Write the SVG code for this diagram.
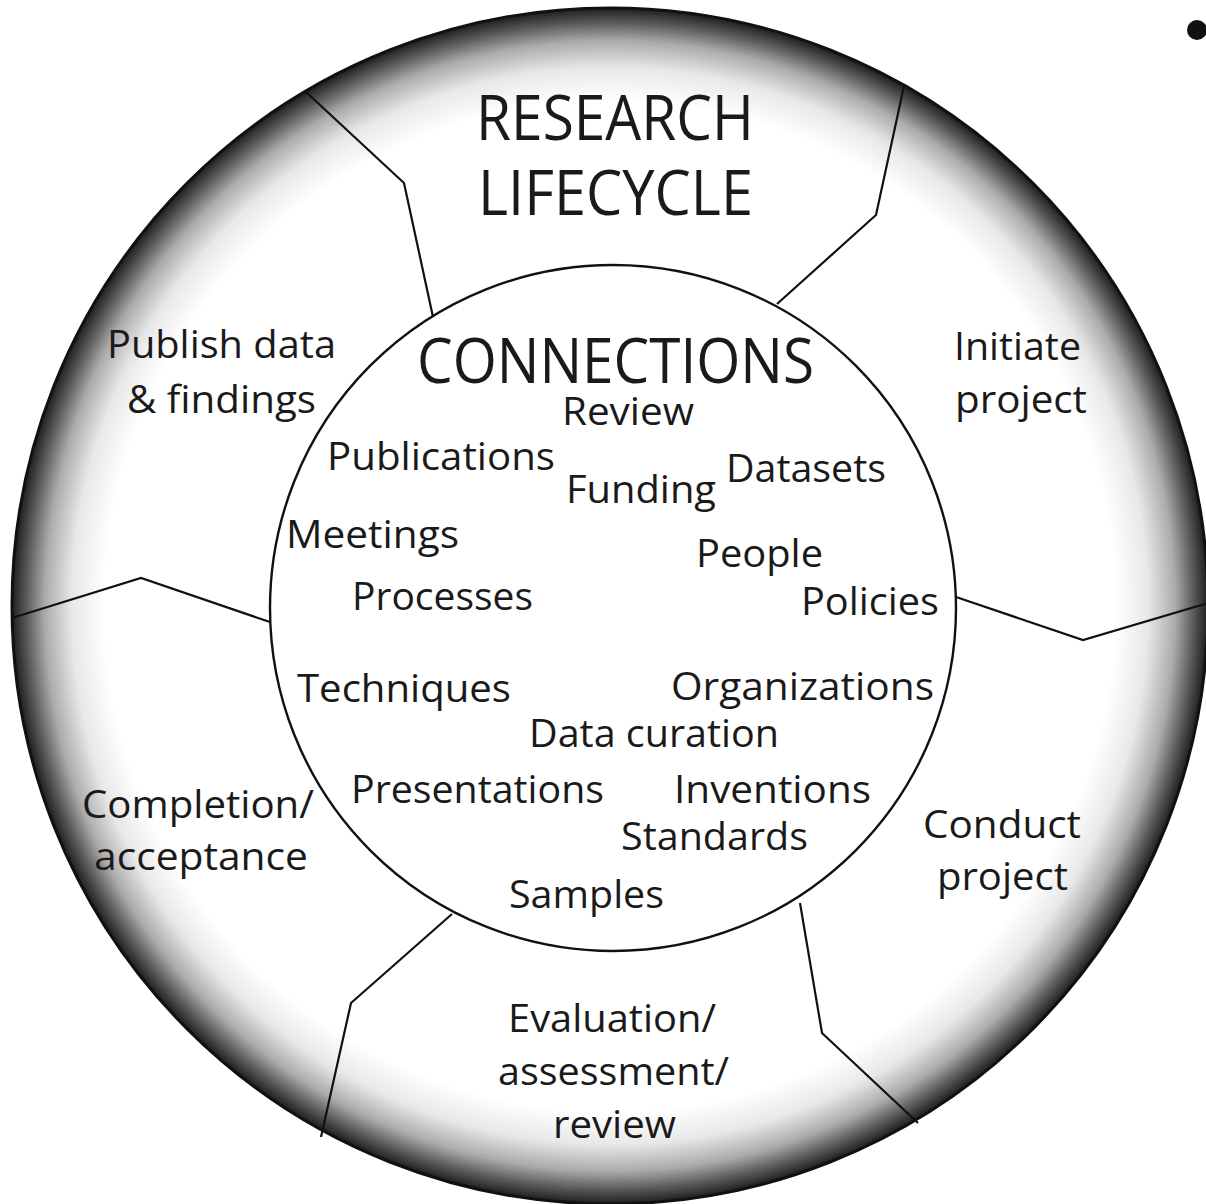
<svg xmlns="http://www.w3.org/2000/svg" width="1206" height="1204" viewBox="0 0 1206 1204">
  <defs>
    <radialGradient id="ringGrad" cx="50%" cy="50%" r="50%">
      <stop offset="0" stop-color="#ffffff"/>
      <stop offset="0.845" stop-color="#ffffff"/>
      <stop offset="0.9" stop-color="#e8e8e8"/>
      <stop offset="0.945" stop-color="#ababab"/>
      <stop offset="0.975" stop-color="#5c5c5c"/>
      <stop offset="1" stop-color="#1e1e1e"/>
    </radialGradient>
  </defs>
  <style>
    .lbl { font-family: "Open Sans", "Noto Sans", "Liberation Sans", sans-serif; fill: #1a1a1a; font-size: 38px; }
    .big { font-size: 62px; }
    .divider { fill: none; stroke: #111; stroke-width: 2.2; stroke-linejoin: miter; }
  </style>
  <rect width="1206" height="1204" fill="#ffffff"/>

  <g id="outer-ring">
    <circle cx="610" cy="606" r="598" fill="url(#ringGrad)" stroke="#111" stroke-width="3"/>
  </g>

  <g id="inner-circle">
    <circle cx="613" cy="608" r="343" fill="#ffffff" stroke="#111" stroke-width="2.4"/>
  </g>

  <g id="connectors">
    <polyline class="divider" points="306,92 404,183 433,317"/>
    <polyline class="divider" points="904,86 876,215 777,304"/>
    <polyline class="divider" points="12,618 141,578 270,622"/>
    <polyline class="divider" points="956,597 1083,640 1208,603"/>
    <polyline class="divider" points="452,914 351,1003 321,1137"/>
    <polyline class="divider" points="800,903 822,1033 918,1123"/>
  </g>

  <g id="dot">
    <circle cx="1197" cy="30" r="10" fill="#111"/>
  </g>

  <g id="title-research-lifecycle">
    <text class="lbl big" x="476" y="140" textLength="278" lengthAdjust="spacingAndGlyphs">RESEARCH</text>
    <text class="lbl big" x="478" y="215" textLength="275" lengthAdjust="spacingAndGlyphs">LIFECYCLE</text>
  </g>

  <g id="stage-publish">
    <text class="lbl" x="107" y="358" textLength="229" lengthAdjust="spacingAndGlyphs">Publish data</text>
    <text class="lbl" x="127" y="413" textLength="189" lengthAdjust="spacingAndGlyphs">&amp; findings</text>
  </g>
  <g id="stage-initiate">
    <text class="lbl" x="954" y="360" textLength="127" lengthAdjust="spacingAndGlyphs">Initiate</text>
    <text class="lbl" x="955" y="413" textLength="132" lengthAdjust="spacingAndGlyphs">project</text>
  </g>
  <g id="stage-completion">
    <text class="lbl" x="82" y="818" textLength="232" lengthAdjust="spacingAndGlyphs">Completion/</text>
    <text class="lbl" x="94" y="870" textLength="214" lengthAdjust="spacingAndGlyphs">acceptance</text>
  </g>
  <g id="stage-conduct">
    <text class="lbl" x="923" y="838" textLength="158" lengthAdjust="spacingAndGlyphs">Conduct</text>
    <text class="lbl" x="937" y="890" textLength="131" lengthAdjust="spacingAndGlyphs">project</text>
  </g>
  <g id="stage-evaluation">
    <text class="lbl" x="508" y="1032" textLength="208" lengthAdjust="spacingAndGlyphs">Evaluation/</text>
    <text class="lbl" x="498" y="1085" textLength="231" lengthAdjust="spacingAndGlyphs">assessment/</text>
    <text class="lbl" x="553" y="1138" textLength="123" lengthAdjust="spacingAndGlyphs">review</text>
  </g>

  <g id="connections-title">
    <text class="lbl big" x="417" y="383" textLength="397" lengthAdjust="spacingAndGlyphs">CONNECTIONS</text>
  </g>
  <g id="item-review"><text class="lbl" x="562" y="425" textLength="132" lengthAdjust="spacingAndGlyphs">Review</text></g>
  <g id="item-publications"><text class="lbl" x="327" y="470" textLength="228" lengthAdjust="spacingAndGlyphs">Publications</text></g>
  <g id="item-datasets"><text class="lbl" x="726" y="482" textLength="160" lengthAdjust="spacingAndGlyphs">Datasets</text></g>
  <g id="item-funding"><text class="lbl" x="566" y="503" textLength="150" lengthAdjust="spacingAndGlyphs">Funding</text></g>
  <g id="item-meetings"><text class="lbl" x="286" y="548" textLength="173" lengthAdjust="spacingAndGlyphs">Meetings</text></g>
  <g id="item-people"><text class="lbl" x="696" y="567" textLength="127" lengthAdjust="spacingAndGlyphs">People</text></g>
  <g id="item-processes"><text class="lbl" x="352" y="610" textLength="181" lengthAdjust="spacingAndGlyphs">Processes</text></g>
  <g id="item-policies"><text class="lbl" x="801" y="615" textLength="138" lengthAdjust="spacingAndGlyphs">Policies</text></g>
  <g id="item-techniques"><text class="lbl" x="297" y="702" textLength="214" lengthAdjust="spacingAndGlyphs">Techniques</text></g>
  <g id="item-organizations"><text class="lbl" x="671" y="700" textLength="263" lengthAdjust="spacingAndGlyphs">Organizations</text></g>
  <g id="item-data-curation"><text class="lbl" x="529" y="747" textLength="250" lengthAdjust="spacingAndGlyphs">Data curation</text></g>
  <g id="item-presentations"><text class="lbl" x="351" y="803" textLength="253" lengthAdjust="spacingAndGlyphs">Presentations</text></g>
  <g id="item-inventions"><text class="lbl" x="674" y="803" textLength="197" lengthAdjust="spacingAndGlyphs">Inventions</text></g>
  <g id="item-standards"><text class="lbl" x="621" y="850" textLength="187" lengthAdjust="spacingAndGlyphs">Standards</text></g>
  <g id="item-samples"><text class="lbl" x="509" y="908" textLength="155" lengthAdjust="spacingAndGlyphs">Samples</text></g>
</svg>
